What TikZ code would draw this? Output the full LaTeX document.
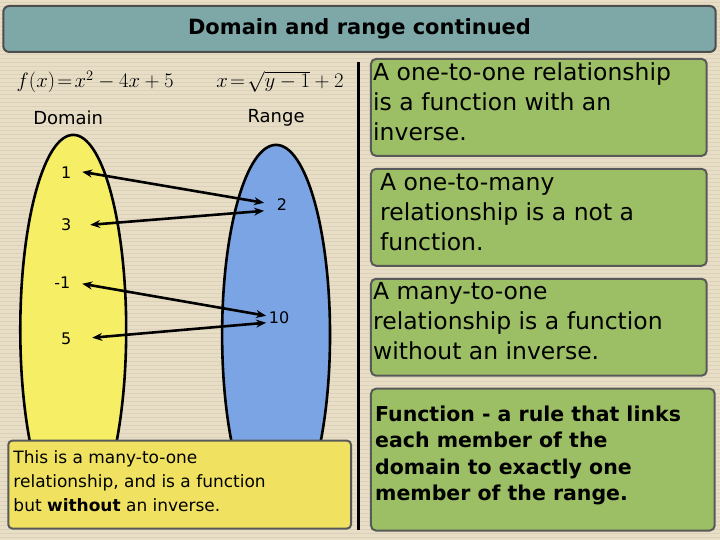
\documentclass[tikz,border=0pt]{standalone}
\usepackage{fontspec}
\setmainfont{DejaVu Sans}
\usepackage{amsmath}
\usetikzlibrary{arrows.meta}
\definecolor{bg}{RGB}{232,222,198}
\definecolor{stripe}{RGB}{220,210,188}
\definecolor{titlec}{RGB}{126,168,168}
\definecolor{greenc}{RGB}{156,190,100}
\definecolor{yel}{RGB}{246,238,100}
\definecolor{blu}{RGB}{122,164,228}
\definecolor{boxy}{RGB}{240,226,96}
\begin{document}
\begin{tikzpicture}[x=1pt,y=-1pt,
 gbox/.style={draw=gray!70!black,line width=2pt,rounded corners=5pt,fill=greenc},
 rtext/.style={anchor=north west,align=left,font=\fontsize{23.5}{30}\selectfont,inner sep=0pt},
 num/.style={font=\fontsize{16}{18}\selectfont},
 arr/.style={{Stealth[length=10pt,width=8pt]}-{Stealth[length=10pt,width=8pt]},line width=2.6pt}]
\fill[bg] (0,0) rectangle (720,540);
\foreach \y in {2,6,...,538} \draw[stripe,line width=0.6pt] (0,\y)--(720,\y);
\node[draw=gray!60!black,line width=2pt,rounded corners=6pt,fill=titlec,minimum width=713pt,minimum height=46pt,font=\bfseries\fontsize{21}{24}\selectfont] (title) at (359.5,29) {Domain and range continued};
\node (f) at (95,82) {\fontsize{21}{24}\selectfont$f(x)\!=\!x^2-4x+5$};
\node (g) at (280,82) {\fontsize{21}{24}\selectfont$x\!=\!\sqrt{y-1}+2$};
\node[font=\fontsize{18}{22}\selectfont] (dom) at (68,118) {Domain};
\node[font=\fontsize{18}{22}\selectfont] (ran) at (276,118) {Range};
\draw[line width=2.6pt,fill=yel] (73,330) ellipse (53 and 195);
\draw[line width=2.6pt,fill=blu] (276,335) ellipse (54 and 190);
\node[num] (n1) at (66,173) {1};
\node[num] (n3) at (66,225) {3};
\node[num] (nm1) at (62,283) {-1};
\node[num] (n5) at (66,339) {5};
\node[num] (n2) at (282,205) {2};
\node[num] (n10) at (279,318) {10};
\draw[arr] (82,172) -- (264,203);
\draw[arr] (90,225) -- (264,211);
\draw[arr] (82,284) -- (266,316);
\draw[arr] (92,338) -- (266,323);
\draw[line width=3pt] (358,62) -- (358,530);
\node[gbox,minimum width=336pt,minimum height=97pt,anchor=north west] (b1) at (370,58) {};
\node[rtext] (t1) at (373,63) {A one-to-one relationship\\is a function with an\\inverse.};
\node[gbox,minimum width=336pt,minimum height=97pt,anchor=north west] (b2) at (370,168) {};
\node[rtext] (t2) at (380,173) {A one-to-many\\relationship is a not a\\function.};
\node[gbox,minimum width=336pt,minimum height=97pt,anchor=north west] (b3) at (370,278) {};
\node[rtext] (t3) at (373,282) {A many-to-one\\relationship is a function\\without an inverse.};
\node[gbox,minimum width=344pt,minimum height=142pt,anchor=north west] (b4) at (370,388) {};
\node[rtext,font=\bfseries\fontsize{20.5}{26.5}\selectfont] (t4) at (375,406) {Function - a rule that links\\each member of the\\domain to exactly one\\member of the range.};
\node[draw=gray!70!black,line width=2pt,rounded corners=4pt,fill=boxy,minimum width=343pt,minimum height=88pt,anchor=north west] (bl) at (7,440) {};
\node[anchor=north west,align=left,inner sep=0pt,font=\fontsize{17}{24}\selectfont] (tl) at (13,451) {This is a many-to-one\\relationship, and is a function\\but \textbf{without} an inverse.};
\end{tikzpicture}
\end{document}
